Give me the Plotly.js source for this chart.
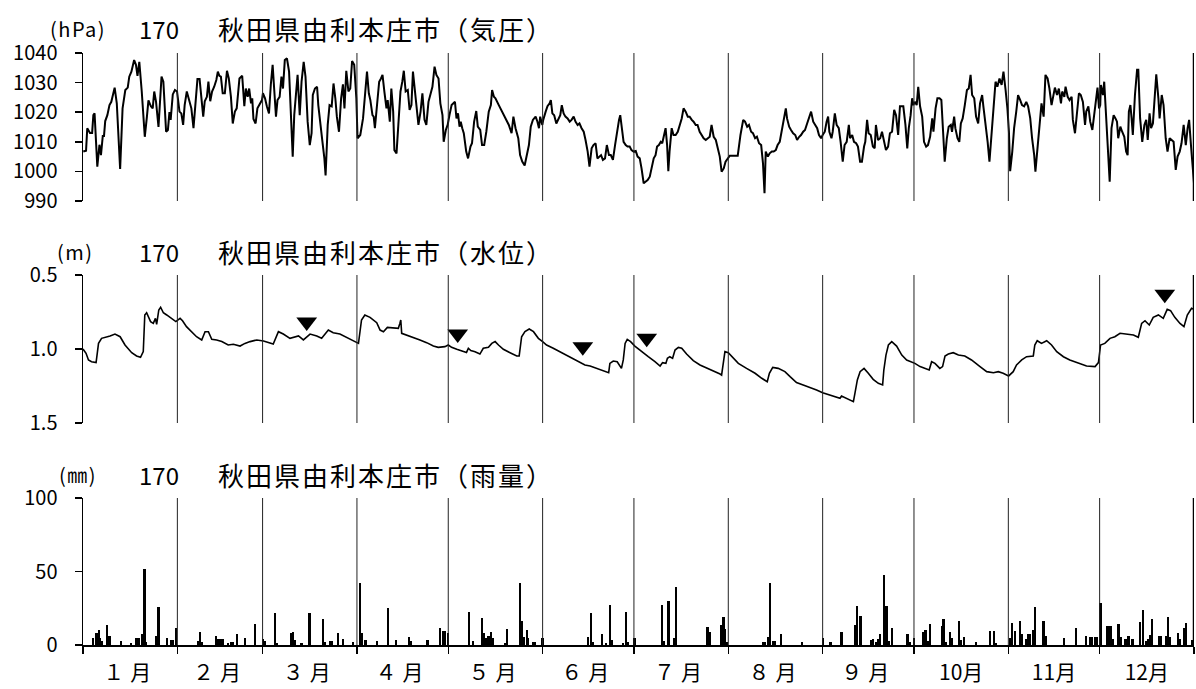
<!DOCTYPE html>
<html>
<head>
<meta charset="utf-8">
<script src="https://cdn.plot.ly/plotly-3.0.1.min.js"></script>
<style>
html,body{margin:0;padding:0;background:#fff;}
#chart{width:1196px;height:689px;}
</style>
</head>
<body>
<div id="chart"></div>
<script>
// ---------------- DATA ----------------
const monthDays = [31,28,31,30,31,30,31,31,30,31,30,31];
const monthLabels = ['１月','２月','３月','４月','５月','６月','７月','８月','９月','10月','11月','12月'];
const stationNo = '170';
const stationName = '秋田県由利本庄市';
const panelNames = ['（気圧）','（水位）','（雨量）'];
const panelUnits = ['(hPa)','(m)','(㎜)'];

// pressure [day of year (0 = Jan 1 00:00), hPa]
const pressurePts = [
[0.1,1006.7],[1.0,1007],[1.4,1014.6],[2.3,1013],[3.0,1013],[3.4,1019],[3.8,1019.6],[4.7,1001.6],[5.4,1009],[5.9,1005.5],
[6.5,1012],[6.9,1012],[7.3,1017],[8.0,1019],[8.7,1022.4],[9.3,1023.5],[10.4,1028.3],[11.1,1023],[12.2,1000.8],[13.0,1021.3],
[13.9,1027.5],[14.7,1028.3],[15.2,1032],[15.9,1033.7],[16.8,1037.6],[17.4,1036],[17.9,1032.3],[18.5,1037],[19.3,1027],[20.3,1011.7],
[21.0,1018.5],[21.5,1024],[22.3,1022],[22.9,1021.3],[23.4,1027],[24.0,1023.5],[24.8,1015],[25.3,1026],[25.8,1032],[26.4,1030.3],
[27.3,1013.4],[27.9,1014],[28.4,1020],[28.8,1017.4],[29.5,1026],[30.2,1027.5],
[30.9,1027],[31.7,1020.2],[32.3,1019.6],[32.9,1015.7],[33.4,1022.4],[34.1,1027],[34.8,1024.5],[35.6,1021.3],[36.3,1014.6],[37.0,1022.4],
[37.6,1031.2],[38.3,1031.2],[38.9,1024.7],[39.5,1018.5],[40.0,1023.7],[40.7,1025.2],[41.2,1030.3],[41.8,1023.7],[42.4,1027],[43.1,1028.6],
[43.8,1030.9],[44.3,1033.7],[44.8,1032.3],[45.3,1032],[45.9,1026.4],[46.6,1026.4],[47.3,1034],[47.9,1031.4],[48.6,1025.2],[49.2,1016.2],
[49.9,1020.2],[50.5,1021.3],[51.4,1031.4],[52.3,1032.3],[53.0,1022],[53.5,1028],[54.1,1025.2],[54.6,1028],[55.2,1023],[55.6,1024.7],
[56.0,1017.7],[56.7,1016.2],[57.3,1021.3],[58.0,1022.4],[58.8,1024.1],
[59.1,1026.4],[59.8,1024.7],[60.4,1022],[61.1,1019.6],[61.7,1029.2],[62.3,1036],[62.8,1028],[63.4,1018.5],[63.9,1024.1],[64.6,1025.2],
[65.2,1032],[65.7,1028],[66.3,1037.6],[67.0,1038.2],[67.7,1033.7],[68.3,1019.6],[68.9,1005],[69.4,1019],[70.1,1028.6],[70.5,1032.6],
[71.2,1019],[71.8,1030.3],[72.5,1037],[73.1,1032],[73.8,1016.8],[74.5,1008.9],[75.1,1012.9],[75.5,1025.8],[76.2,1028],[76.9,1028.6],
[77.3,1022.4],[78.0,1016.8],[78.6,1010.6],[79.3,1004.4],[79.7,998.6],[80.4,1015.7],[81.0,1022.4],[81.7,1022],[82.3,1029.7],[82.9,1024.7],
[83.4,1018.5],[84.1,1013.4],[84.8,1024.7],[85.4,1029.4],[85.9,1021.3],[86.5,1034],[87.2,1027],[87.8,1028],[88.4,1037.3],[89.1,1036],[89.8,1024.7],
[90.2,1011.2],[91.1,1012.3],[92.0,1017.9],[92.7,1028],[93.3,1033.7],[93.9,1026.4],[94.4,1024.1],[95.1,1019],[95.5,1018.5],[95.9,1014.6],
[96.6,1023.5],[97.3,1030.3],[97.9,1031.4],[98.4,1032.6],[99.0,1027],[99.7,1021.3],[100.1,1024.1],[100.8,1016.8],[101.3,1028],[101.9,1020.2],
[102.3,1007.2],[103.0,1006.1],[103.6,1015.7],[104.3,1027],[104.9,1030.3],[105.4,1034],[106.0,1027],[106.7,1027.5],[107.3,1020.8],[107.9,1022.4],
[108.4,1033.7],[109.1,1027],[109.5,1022.4],[110.2,1015.7],[110.9,1020.2],[111.5,1026.4],[112.2,1017.4],[112.8,1015.7],[113.5,1023.5],[114.1,1025.8],
[114.8,1028.6],[115.5,1035.4],[116.1,1032.6],[116.8,1031.4],[117.4,1023],[118.1,1019],[118.5,1010],[119.2,1014],[119.8,1015.7],
[120.4,1019],[121.1,1022.4],[121.7,1023],[122.2,1023.5],[122.7,1017.9],[123.2,1019.6],[123.7,1015.1],[124.1,1016.8],[124.6,1014.6],[125.1,1012.9],
[125.9,1006.7],[126.5,1004.4],[127.3,1008.4],[127.8,1009.5],[128.5,1016.8],[129.2,1020.4],[129.7,1015.1],[130.5,1014],[131.1,1008.9],[131.8,1008.9],
[132.5,1013.4],[133.3,1020.2],[134.0,1022.4],[134.4,1027.5],[135.0,1025.2],[135.5,1024.7],[136.6,1022.4],[137.7,1020.2],[138.8,1017.9],[139.9,1015.7],
[140.8,1012.9],[141.4,1018.5],[142.1,1014.6],[143.0,1011.2],[143.6,1005.5],[144.3,1003.3],[145.1,1002],[145.6,1004.4],[146.5,1008.9],[147.1,1015.1],
[147.8,1017.4],[148.7,1018.5],[149.3,1016.8],[149.8,1014.6],[150.2,1018.5],[150.9,1015.7],
[151.2,1017.4],[152.0,1020.2],[152.6,1022],[153.3,1023],[153.7,1024.1],[154.2,1019.6],[154.8,1019],[155.5,1016.2],[156.1,1017.4],[156.8,1019],
[157.3,1022.4],[157.9,1019.6],[158.5,1018.5],[159.2,1017.9],[159.9,1016.8],[160.5,1017.4],[161.2,1018.5],[161.8,1016.8],[162.5,1015.7],[163.1,1016.2],
[163.8,1014.6],[164.5,1013.4],[165.1,1010.6],[165.8,1006.7],[166.4,1001.6],[167.1,1007.8],[167.7,1008.9],[168.4,1009.5],[169.0,1004.4],[169.5,1005],
[170.2,1005.5],[170.8,1003.9],[171.5,1004.4],[172.1,1008.9],[172.8,1005.5],[173.4,1005.5],[174.1,1003.9],[174.8,1008.9],[175.4,1013.4],[176.1,1017.4],
[176.5,1019],[177.0,1014.6],[177.6,1010],[178.3,1008.9],[178.9,1008.4],[179.6,1008.4],[180.2,1007.2],[180.9,1006.7],
[181.6,1006.9],[182.2,1005],[182.9,1004.4],[183.5,1001],[184.2,996],[184.8,996.5],[185.5,997.1],[186.2,998.2],[186.8,1001.6],[187.5,1004.4],
[188.1,1005.5],[188.6,1008.4],[189.2,1008.9],[189.8,1010],[190.3,1009.5],[190.8,1011.7],[191.4,1014.6],[191.9,1008.9],[192.3,1000.1],[192.7,1006.7],
[193.4,1014.6],[194.0,1012.3],[194.7,1012.3],[195.4,1013.4],[196.0,1015.7],[196.7,1017.9],[197.3,1021.3],[198.0,1020.2],[198.7,1018.5],[199.3,1018.5],
[200.0,1017.4],[200.6,1016.8],[201.3,1015.7],[201.9,1015.7],[202.6,1013.4],[203.3,1012.3],[203.9,1011.2],[204.6,1010.6],[205.2,1011.2],[205.9,1011.7],
[206.5,1015.7],[207.2,1011.7],[207.9,1010.6],[208.5,1007.8],[209.2,1005],[209.8,999.9],[210.5,1001],[211.1,1003.3],[211.8,1004.4],
[212.5,1005.3],[213.6,1005.3],[215.1,1005.3],[216.0,1012.3],[216.9,1017.4],[217.5,1016.8],[218.2,1015.1],[218.8,1015.7],[219.5,1013.4],[220.1,1012.9],
[220.8,1011.2],[221.4,1011.7],[222.1,1009.5],[222.8,1008.9],[223.4,1002.7],[223.9,992.6],[224.3,1006.7],[225.0,1005],[225.6,1006.1],[226.3,1006.7],
[226.9,1006.7],[227.6,1007.2],[228.2,1008.9],[228.9,1010],[229.6,1014],[230.2,1017.4],[230.9,1021.3],[231.3,1017.9],[232.0,1015.1],[232.6,1014],
[233.3,1012.9],[234.0,1012.3],[234.6,1010.6],[235.3,1011.7],[235.9,1012.3],[236.6,1013.4],[237.2,1014],[237.9,1016.2],[238.5,1017.9],[239.2,1020.2],
[239.9,1016.8],[240.5,1015.7],[241.2,1014.6],[241.8,1012.3],[242.5,1011.2],
[243.0,1012.3],[243.7,1013.4],[244.3,1016.8],[244.8,1018.5],[245.2,1013.4],[245.9,1011.2],[246.3,1013.4],[247.0,1019.6],[247.6,1015.7],[248.3,1014.6],
[248.9,1010],[249.6,1003.3],[250.2,1008.9],[250.9,1010],[251.6,1015.7],[252.0,1011.2],[252.7,1012.3],[253.3,1010],[254.0,1009.5],[254.6,1008.4],
[255.3,1003.3],[255.9,1003.3],[256.6,1008.4],[257.0,1010],[257.6,1017.4],[258.1,1012.9],[258.8,1012.3],[259.5,1008.4],[260.1,1007.8],[260.5,1015.7],
[261.2,1010.6],[261.9,1011.2],[262.5,1013.4],[263.2,1010],[263.8,1007.2],[264.5,1008.4],[265.1,1012.9],[265.8,1013.4],[266.5,1020.8],[267.1,1019],
[267.8,1012.3],[268.4,1022],[269.1,1022],[269.5,1022],[270.2,1015.7],[270.8,1007.8],[271.3,1014.6],[271.9,1019],[272.4,1024.7],[272.8,1022.4],
[273.3,1023.5],[273.9,1022.4],[274.4,1028.6],[275.0,1022],[275.7,1018.5],[276.3,1010],[277.0,1008.4],[277.6,1008.9],[278.3,1011.7],[279.0,1017.9],
[279.4,1013.4],[280.1,1021.3],[280.7,1024.7],[281.4,1024.7],[282.0,1024.1],[282.5,1012.3],[283.1,1003.3],[283.8,1011.2],[284.4,1015.1],[285.1,1015.7],
[285.5,1013.4],[286.2,1018.5],[286.6,1014.6],[287.3,1011.2],[287.9,1010],[288.4,1016.2],[289.0,1017.9],[289.7,1022.4],[290.4,1027.5],[291.0,1028],
[291.6,1032.6],[292.1,1025.8],[292.8,1024.7],[293.4,1018.5],[294.1,1016.2],[294.7,1023],[295.4,1025.8],[295.8,1022],[296.5,1016.8],[297.2,1010],
[297.8,1003.3],[298.5,1012.3],[299.1,1020.2],[299.8,1030.3],[300.4,1028.6],[301.1,1031.4],[301.8,1029.2],[302.4,1033.7],[303.1,1027.5],[303.7,1021.3],[304.2,1013.4],
[304.6,1000.1],[305.3,1006.7],[305.9,1014.6],[306.6,1020.2],[307.2,1025.8],[307.9,1024.1],[308.5,1022.4],[309.2,1022],[309.9,1023.5],[310.5,1022],
[311.2,1017.9],[311.8,1011.2],[312.5,1005.5],[312.9,999.9],[313.6,1008.9],[314.3,1017.4],[314.9,1023],[315.6,1018.5],[316.2,1032.6],[316.9,1031.4],
[317.5,1028],[318.2,1022.4],[318.6,1024.7],[319.3,1028.3],[320.0,1025.8],[320.6,1028],[321.3,1023],[321.7,1027],[322.4,1025.2],[322.8,1028.6],
[323.5,1025.2],[324.1,1024.1],[324.8,1025.2],[325.2,1017.4],[325.9,1012.9],[326.5,1020.2],[327.2,1026.4],[327.8,1025.8],[328.5,1023.5],[329.2,1015.7],
[329.6,1020.2],[330.3,1022],[330.9,1016.8],[331.6,1014],[332.2,1019.6],[332.9,1024.7],[333.3,1028.3],[333.8,1021.3],[334.2,1022.4],
[334.4,1029.2],[335.1,1025.8],[335.5,1030.3],[336.2,1017.9],[336.8,1004.4],[337.3,996.5],[337.9,1014.6],[338.6,1019],[339.2,1017.9],[339.7,1016.8],
[340.1,1011.2],[340.8,1015.1],[341.4,1013.4],[342.1,1011.7],[342.7,1006.7],[343.2,1005.5],[343.6,1020.2],[344.1,1022.4],[344.5,1017.9],[344.9,1012.3],
[345.6,1025.8],[346.3,1034.3],[346.7,1034.3],[347.3,1017.9],[348.0,1010],[348.7,1015.7],[349.3,1017.4],[349.8,1010.6],[350.4,1019.6],[350.9,1014.6],
[351.5,1016.2],[352.0,1024.1],[352.6,1032.8],[353.3,1024.7],[353.7,1017.9],[354.4,1025.8],[355.0,1022.4],[355.7,1011.2],[356.3,1006.7],[357.0,1011.2],
[357.7,1010.6],[358.3,1010],[359.0,1000.5],[359.6,1005],[360.3,1006.7],[360.9,1009.5],[361.6,1015.7],[362.3,1008.9],[362.9,1014.6],[363.4,1017.4],
[364.0,1008.9],[364.7,998.8],[365.0,996]
];

// water level [day of year, m below reference]
const levelPts = [
[0.0,1.000],[1.0,1.029],[1.8,1.074],[2.8,1.086],[4.3,1.092],[5.1,0.962],[6.1,0.928],[7.5,0.921],[8.9,0.912],[10.5,0.899],
[12.2,0.917],[13.8,0.973],[16.0,1.025],[17.6,1.047],[18.9,1.056],[19.8,1.018],[20.3,0.770],[20.9,0.755],[22.2,0.815],[23.1,0.827],
[23.8,0.793],[24.2,0.833],[24.9,0.736],[25.5,0.718],[26.4,0.755],[27.5,0.770],[29.1,0.793],[30.5,0.815],[31.9,0.793],[32.7,0.809],
[34.0,0.849],[35.7,0.883],[37.3,0.917],[39.0,0.939],[40.1,0.883],[41.2,0.883],[42.3,0.935],[43.9,0.939],[45.6,0.950],[47.7,0.973],
[49.4,0.968],[51.6,0.980],[53.2,0.962],[54.9,0.950],[57.1,0.939],[59.3,0.946],[60.9,0.957],[62.5,0.966],[64.2,0.883],[65.8,0.899],
[68.0,0.928],[70.8,0.912],[72.4,0.939],[74.6,0.899],[76.8,0.912],[78.4,0.928],[80.6,0.872],[82.2,0.890],[84.4,0.899],[86.6,0.921],
[88.8,0.944],[90.5,0.962],[91.5,0.804],[92.6,0.770],[94.3,0.786],[96.5,0.822],
[97.6,0.872],[98.7,0.883],[100.0,0.854],[102.0,0.860],[103.6,0.860],[104.1,0.827],[104.4,0.804],[104.7,0.894],[106.3,0.905],[108.5,0.921],
[110.7,0.939],[112.9,0.957],[115.1,0.980],[116.7,0.989],[118.9,0.984],[120.0,0.973],[121.1,0.989],[122.8,1.002],[124.9,1.018],[126.0,1.023],
[126.6,0.995],[127.4,1.011],[128.8,1.018],[130.4,1.034],[131.5,0.995],[133.2,0.989],[134.3,0.962],[135.4,0.950],[136.5,0.973],[138.1,1.002],
[140.3,1.025],[142.5,1.047],[143.3,1.047],[144.1,0.917],[145.2,0.883],[146.6,0.865],[148.0,0.883],[149.6,0.928],[151.0,0.950],[152.3,0.973],
[154.5,0.995],[157.3,1.025],[160.0,1.052],[162.7,1.081],[164.9,1.108],[166.6,1.115],[167.7,1.124],[169.3,1.137],[170.9,1.146],[172.7,1.160],
[173.1,1.097],[174.2,1.081],[175.5,1.086],[176.9,1.131],[177.5,1.074],[178.1,0.962],[178.8,0.935],[179.9,0.950],[181.3,0.980],[183.5,1.018],
[185.7,1.052],[187.9,1.086],[189.6,1.115],[190.4,1.092],[191.5,1.097],[192.0,1.063],[192.8,1.052],[193.7,1.063],[194.5,1.007],[195.6,0.989],
[196.7,0.995],[198.3,1.034],[200.5,1.079],[202.7,1.108],[205.4,1.131],[207.1,1.146],[209.3,1.169],[209.8,1.176],[210.4,1.086],[210.9,1.018],
[212.0,1.025],[213.6,1.063],[215.3,1.097],[218.0,1.131],[220.8,1.164],[223.0,1.198],[224.8,1.221],[225.5,1.164],[226.6,1.124],[228.4,1.131],
[230.6,1.153],[232.3,1.187],[234.4,1.227],[236.6,1.243],[238.8,1.259],[241.0,1.277],[243.0,1.295],[245.4,1.311],[247.6,1.322],[248.7,1.333],
[249.2,1.318],[250.9,1.333],[253.1,1.356],[253.6,1.300],[254.4,1.209],[255.3,1.153],[256.6,1.131],[258.0,1.164],[259.6,1.205],[261.3,1.232],
[262.7,1.243],[263.1,1.142],[263.8,1.041],[264.6,0.973],[265.7,0.950],[267.3,0.980],[269.0,1.041],[270.6,1.074],[272.2,1.086],[273.3,1.097],
[275.0,1.119],[277.2,1.137],[278.0,1.142],[278.8,1.086],[279.9,1.097],[281.5,1.131],[282.4,1.119],[283.2,1.047],[284.3,1.034],[285.9,1.025],
[287.6,1.041],[289.7,1.047],[291.9,1.074],[294.7,1.119],[296.9,1.153],[299.1,1.160],[300.7,1.153],[302.3,1.164],[304.1,1.182],[305.6,1.153],
[306.7,1.108],[308.4,1.074],[310.0,1.052],[312.2,1.047],[312.7,0.973],[313.5,0.944],[314.9,0.962],[316.6,0.944],[318.2,0.973],[319.9,1.018],
[322.1,1.052],[324.2,1.074],[327.0,1.097],[329.7,1.115],[332.5,1.119],[333.6,1.092],[334.3,0.973],[335.7,0.962],[337.4,0.928],[339.0,0.917],
[340.7,0.894],[342.9,0.899],[345.1,0.905],[346.7,0.921],[347.8,0.827],[348.9,0.809],[350.3,0.838],[351.6,0.786],[353.3,0.770],[354.9,0.793],
[356.2,0.732],[357.3,0.741],[358.7,0.786],[360.4,0.827],[361.7,0.849],[362.8,0.770],[364.2,0.725],[365.0,0.732]
];

// ▼ marks on the water level panel [day of year, m]
const markerPts = [[73.5,0.818],[123.1,0.899],[164.2,0.984],[185.2,0.928],[355.4,0.630]];

// rainfall [day of year, mm]
const rainPts = [
[3.2,5.0],[4.2,7.9],[4.6,8.4],[5.3,10.2],[5.6,4.5],[6.1,2.9],[8.0,13.6],[8.7,6.1],[12.5,2.7],[15.7,1.1],
[17.6,5.0],[18.2,4.5],[19.5,7.5],[20.2,51.5],[20.8,2.3],[24.0,6.1],[24.8,25.6],[27.5,5.0],[29.0,3.4],[29.4,3.4],[30.6,11.3],
[37.9,2.9],[38.4,9.1],[39.1,2.3],[43.6,6.1],[44.5,3.9],[45.2,3.9],[45.9,3.9],[47.7,1.6],[48.8,2.0],[49.3,2.0],
[50.7,7.5],[53.2,4.5],[56.6,14.3],[59.2,3.9],[59.8,2.9],
[63.1,22.0],[63.8,1.6],[68.5,8.4],[69.1,9.1],[69.7,3.4],[71.8,1.1],[74.4,21.5],[78.9,17.5],[79.5,2.3],[81.1,2.9],
[81.7,2.9],[83.7,8.4],[85.5,3.9],[88.6,2.3],
[91.0,42.0],[91.6,7.9],[92.8,3.4],[96.5,2.9],[100.2,24.9],[102.8,3.4],[107.2,5.2],[107.8,2.9],[113.2,3.4],[117.3,11.3],
[118.2,9.5],[118.9,9.5],[119.8,8.4],
[126.9,22.2],[128.2,2.7],[131.0,18.6],[131.7,8.4],[132.4,4.5],[133.2,6.1],[134.0,9.1],[134.6,4.5],[138.6,1.6],[139.2,10.7],
[143.6,42.0],[144.2,16.3],[144.9,5.7],[145.8,10.2],[146.3,4.5],[148.0,2.3],[148.5,2.3],[151.0,4.5],
[166.0,5.7],[166.8,22.0],[167.4,2.3],[170.6,7.5],[171.8,1.1],[173.2,27.2],[173.9,3.4],[177.3,1.6],[178.4,22.7],[179.0,2.3],[181.2,4.5],
[190.2,27.2],[190.9,2.9],[192.4,29.9],[194.2,4.5],[194.8,39.2],[205.2,12.0],[206.0,9.1],[209.8,13.6],[210.4,19.3],[211.0,10.7],[211.5,2.3],
[223.5,2.3],[224.0,2.3],[225.1,5.7],[225.8,42.0],[226.6,2.9],[227.3,2.9],[229.3,7.5],[236.1,2.3],
[243.0,4.5],[245.6,2.3],[249.2,9.1],[253.6,13.6],[254.3,26.5],[255.4,19.7],[258.8,3.4],[259.5,3.9],[260.7,2.3],[261.3,3.9],
[261.8,7.5],[263.2,47.6],[264.0,26.5],[264.8,2.9],[265.7,11.3],[270.9,7.5],[271.5,2.3],
[273.1,4.5],[276.1,9.1],[276.8,10.2],[277.5,2.9],[278.2,14.3],[282.1,12.9],[282.7,17.5],[283.4,2.3],[284.8,8.6],[285.5,4.5],
[287.9,16.6],[288.5,3.4],[289.4,5.2],[293.4,2.3],[298.0,9.5],[299.4,9.5],[300.0,1.6],
[304.5,4.5],[305.3,15.2],[306.1,9.8],[307.8,16.3],[308.6,7.5],[309.8,3.9],[310.6,7.5],[311.1,7.5],[312.0,10.2],[312.7,26.1],
[315.6,16.3],[316.2,6.1],[322.3,5.0],[326.2,11.8],[329.4,6.1],[330.8,5.2],[331.5,5.2],[332.5,5.7],[333.2,5.7],
[334.3,28.3],[336.3,13.2],[337.1,12.9],[337.6,12.9],[338.3,3.9],[340.2,14.3],[340.9,5.7],[342.5,3.9],[343.2,6.1],[343.7,6.1],
[344.8,3.9],[347.2,15.9],[348.3,23.8],[349.4,2.9],[350.0,3.9],[350.5,6.8],[351.3,17.5],[353.6,6.1],[354.1,6.1],[355.8,6.1],
[356.4,19.3],[357.1,5.2],[359.8,8.4],[360.4,3.9],[361.7,11.3],[362.3,15.2],[364.5,3.4]
];

// ---------------- CHART ----------------
const FONT = "'Noto Sans CJK JP', 'Noto Sans', sans-serif";
const W = 1196, H = 689, PL = 83, PR = 2;
const plotW = W - PL - PR;
const px2x = px => (px - PL) / plotW;   // pixel -> paper x
const py2y = py => 1 - py / H;          // pixel -> paper y

const monthStarts = [0];
monthDays.forEach(d => monthStarts.push(monthStarts[monthStarts.length - 1] + d));
const yearLen = monthStarts[monthStarts.length - 1];
const monthMids = monthDays.map((d, i) => monthStarts[i] + d / 2);

const traces = [
  { type: 'scatter', mode: 'lines', x: pressurePts.map(p => p[0]), y: pressurePts.map(p => p[1]),
    xaxis: 'x', yaxis: 'y', line: { color: '#000', width: 2 }, hoverinfo: 'skip' },
  { type: 'scatter', mode: 'lines', x: levelPts.map(p => p[0]), y: levelPts.map(p => p[1]),
    xaxis: 'x2', yaxis: 'y2', line: { color: '#000', width: 1.6 }, hoverinfo: 'skip' },
  { type: 'scatter', mode: 'markers', x: markerPts.map(p => p[0]), y: markerPts.map(p => p[1]),
    xaxis: 'x2', yaxis: 'y2', marker: { symbol: 'triangle-down', size: 18, color: '#000' }, hoverinfo: 'skip' },
  { type: 'bar', x: rainPts.map(p => p[0]), y: rainPts.map(p => p[1]),
    xaxis: 'x3', yaxis: 'y3', width: 0.75, marker: { color: '#000', line: { width: 0 } }, hoverinfo: 'skip' }
];

const domains = [
  [py2y(201), py2y(53)],
  [py2y(423), py2y(275)],
  [py2y(645), py2y(498)]
];

const yBase = {
  showline: true, linecolor: '#000', linewidth: 1.5, ticks: 'outside', ticklen: 7, tickwidth: 1.5,
  tickcolor: '#000', showgrid: false, zeroline: false, tickfont: { family: FONT, size: 20, color: '#000' },
  ticklabelstandoff: 13, fixedrange: true
};
const xBase = {
  range: [0, yearLen], showgrid: false, zeroline: false, showline: false, ticks: '', showticklabels: false,
  fixedrange: true, domain: [0, 1]
};

const shapes = [];
['y', 'y2', 'y3'].forEach((yr, k) => {
  const xr = ['x', 'x2', 'x3'][k];
  monthStarts.slice(1, -1).forEach(m => {
    shapes.push({ type: 'line', xref: xr, yref: yr + ' domain', x0: m, x1: m, y0: 0, y1: 1,
      line: { color: '#222', width: 1 } });
  });
  shapes.push({ type: 'line', xref: xr, yref: yr + ' domain', x0: yearLen, x1: yearLen, y0: 0, y1: 1,
    line: { color: '#000', width: 2.5 } });
});

const titleRowsY = [py2y(28), py2y(252), py2y(474)];
const unitX = [48, 55, 57];
const annotations = [];
titleRowsY.forEach((yy, i) => {
  annotations.push({ xref: 'paper', yref: 'paper', x: px2x(unitX[i]), y: yy, xanchor: 'left', yanchor: 'middle', align: 'left',
    text: panelUnits[i], showarrow: false, font: { family: FONT, size: 20, color: '#000' } });
  annotations.push({ xref: 'paper', yref: 'paper', x: px2x(137), y: yy, xanchor: 'left', yanchor: 'middle', align: 'left',
    text: stationNo, showarrow: false, font: { family: FONT, size: 24, color: '#000' } });
  annotations.push({ xref: 'paper', yref: 'paper', x: px2x(216), y: yy, xanchor: 'left', yanchor: 'middle', align: 'left',
    text: stationName + panelNames[i], showarrow: false, font: { family: FONT, size: 26, color: '#000' } });
});

const layout = {
  width: W, height: H, margin: { l: PL, r: PR, t: 0, b: 0 },
  paper_bgcolor: '#fff', plot_bgcolor: '#fff', showlegend: false, bargap: 0,
  font: { family: FONT, color: '#000' },
  xaxis: Object.assign({}, xBase, { anchor: 'y' }),
  xaxis2: Object.assign({}, xBase, { anchor: 'y2' }),
  xaxis3: Object.assign({}, xBase, {
    anchor: 'y3', showline: true, linecolor: '#000', linewidth: 1.5, showticklabels: true,
    tickmode: 'array', tickvals: monthMids, ticktext: monthLabels,
    tickfont: { family: FONT, size: 21, color: '#000' }, ticklabelstandoff: 8,
    minor: { tickmode: 'array', tickvals: monthStarts, ticks: 'outside', ticklen: 7, tickwidth: 1.2, tickcolor: '#000', showgrid: false }
  }),
  yaxis: Object.assign({}, yBase, { domain: domains[0], anchor: 'x', range: [990, 1040],
    tickmode: 'array', tickvals: [990, 1000, 1010, 1020, 1030, 1040] }),
  yaxis2: Object.assign({}, yBase, { domain: domains[1], anchor: 'x2', range: [1.5, 0.5],
    tickmode: 'array', tickvals: [0.5, 1.0, 1.5], ticktext: ['0.5', '1.0', '1.5'] }),
  yaxis3: Object.assign({}, yBase, { domain: domains[2], anchor: 'x3', range: [0, 100],
    tickmode: 'array', tickvals: [0, 50, 100] }),
  shapes: shapes,
  annotations: annotations
};

Plotly.newPlot('chart', traces, layout, { displayModeBar: false, staticPlot: true }).then(() => {
  document.querySelectorAll('.annotation-text').forEach(t => {
    if (/秋田/.test(t.textContent)) t.style.letterSpacing = '2px';
    if (/\(/.test(t.textContent)) t.style.letterSpacing = '1.5px';
  });
  document.querySelectorAll('.xaxislayer-above .x3tick text').forEach(t => {
    if (/^[１-９]/.test(t.textContent)) t.style.letterSpacing = '6px';
  });
});
</script>
</body>
</html>
